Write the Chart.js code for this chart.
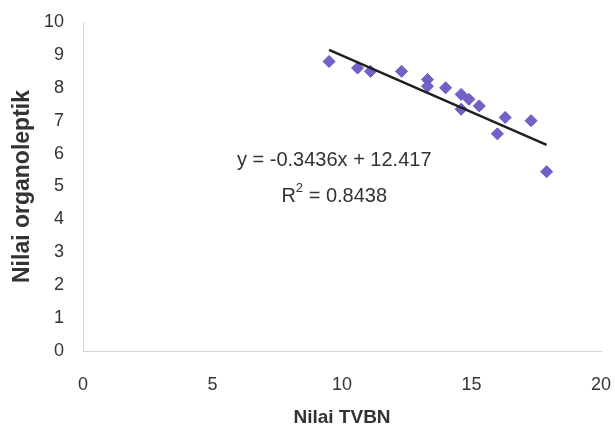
<!DOCTYPE html>
<html>
<head>
<meta charset="utf-8">
<title>Nilai TVBN vs Nilai organoleptik</title>
<script src="https://cdn.jsdelivr.net/npm/chart.js@4.4.1/dist/chart.umd.min.js"></script>
<style>
  html, body { margin: 0; padding: 0; background: #fff; }
  #wrap { width: 615px; height: 437px; }
</style>
</head>
<body>
<div id="wrap"><canvas id="chart" width="615" height="437"></canvas></div>
<script>
// data
const tvbn = [9.5, 10.6, 11.1, 12.3, 13.3, 13.3, 14.0, 14.6, 14.9, 14.6, 15.3, 16.3, 16.0, 17.3, 17.9];
const organoleptik = [8.8, 8.6, 8.5, 8.5, 8.25, 8.05, 8.0, 7.8, 7.65, 7.35, 7.45, 7.1, 6.6, 7.0, 5.45];

// trendline as printed on the chart
const slope = -0.3436;
const intercept = 12.417;
const rSquared = "0.8438";

const xTicks = [0, 5, 10, 15, 20];
const yTicks = [0, 1, 2, 3, 4, 5, 6, 7, 8, 9, 10];

const minX = Math.min(...tvbn);
const maxX = Math.max(...tvbn);
const trend = [
    { x: minX, y: slope * minX + intercept },
    { x: maxX, y: slope * maxX + intercept }
];

const textColor = "#333";
const fontFamily = "'Liberation Sans', Arial, sans-serif";

// Equation label drawn in the plot
const equationLabel = {
    id: "equationLabel",
    afterDatasetsDraw(chart) {
        const ctx = chart.ctx;
        const cx = chart.scales.x.getPixelForValue(9.7);
        const cy = chart.scales.y.getPixelForValue(5.8);
        ctx.save();
        ctx.fillStyle = textColor;
        ctx.textBaseline = "middle";
        ctx.textAlign = "center";
        ctx.font = "20px " + fontFamily;
        ctx.fillText("y = " + slope + "x + " + intercept, cx, cy);

        // R² line with a small superscript
        const part1 = "R";
        const part3 = " = " + rSquared;
        const w1 = ctx.measureText(part1).width;
        const w3 = ctx.measureText(part3).width;
        ctx.font = "13px " + fontFamily;
        const w2 = ctx.measureText("2").width;
        const x0 = cx - (w1 + w2 + w3) / 2;
        const y2 = cy + 36;
        ctx.textAlign = "left";
        ctx.font = "20px " + fontFamily;
        ctx.fillText(part1, x0, y2);
        ctx.font = "13px " + fontFamily;
        ctx.fillText("2", x0 + w1, y2 - 8);
        ctx.font = "20px " + fontFamily;
        ctx.fillText(part3, x0 + w1 + w2, y2);
        ctx.restore();
    }
};

const ctx = document.getElementById("chart").getContext("2d");

new Chart(ctx, {
    type: "scatter",
    data: {
        datasets: [
            {
                label: "Data",
                data: tvbn.map((v, i) => ({ x: v, y: organoleptik[i] })),
                pointStyle: "rectRot",
                pointRadius: 6,
                pointBackgroundColor: "#7560c8",
                pointBorderColor: "#6a56c0",
                pointBorderWidth: 1,
                order: 2
            },
            {
                label: "Trend",
                type: "line",
                data: trend,
                borderColor: "#1f1f1f",
                borderWidth: 2.5,
                pointRadius: 0,
                fill: false,
                order: 1
            }
        ]
    },
    options: {
        responsive: false,
        animation: false,
        events: [],
        layout: {
            padding: { top: 22, right: 14, bottom: 8, left: 5 }
        },
        plugins: {
            legend: { display: false },
            tooltip: { enabled: false }
        },
        scales: {
            x: {
                type: "linear",
                min: 0,
                max: 20,
                afterBuildTicks: (axis) => { axis.ticks = xTicks.map(v => ({ value: v })); },
                // tick marks are not drawn (grid hidden), tickLength only makes the gap
                grid: { display: false, drawTicks: true, tickLength: 21 },
                border: { display: true, color: "#d6d6d6", width: 1 },
                ticks: {
                    color: textColor,
                    padding: 2,
                    maxRotation: 0,
                    font: { family: fontFamily, size: 18 }
                },
                title: {
                    display: true,
                    text: "Nilai TVBN",
                    color: textColor,
                    padding: { top: 8.6, bottom: 0 },
                    font: { family: fontFamily, size: 19, weight: "bold" }
                }
            },
            y: {
                type: "linear",
                min: 0,
                max: 10,
                afterBuildTicks: (axis) => { axis.ticks = yTicks.map(v => ({ value: v })); },
                grid: { display: false, drawTicks: true, tickLength: 17 },
                border: { display: true, color: "#d6d6d6", width: 1 },
                ticks: {
                    color: textColor,
                    padding: 2,
                    font: { family: fontFamily, size: 18 }
                },
                title: {
                    display: true,
                    text: "Nilai organoleptik",
                    color: textColor,
                    padding: { top: 4, bottom: 5.4 },
                    font: { family: fontFamily, size: 23, weight: "bold" }
                }
            }
        }
    },
    plugins: [equationLabel]
});
</script>
</body>
</html>
